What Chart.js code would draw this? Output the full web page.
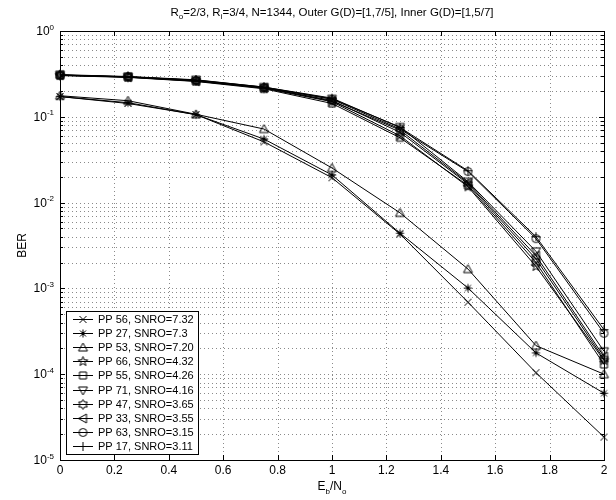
<!DOCTYPE html>
<html lang="en">
<head>
<meta charset="UTF-8">
<title>BER vs Eb/No</title>
<script src="https://cdn.jsdelivr.net/npm/chart.js"></script>
<style>
  html, body { margin: 0; padding: 0; background: #fff; }
  #wrap { width: 616px; height: 500px; }
</style>
</head>
<body>
<div id="wrap"><canvas id="chart" width="616" height="500"></canvas></div>
<script>
  // Eb/No points and axis ticks
  const ebno = [0, 0.25, 0.5, 0.75, 1, 1.25, 1.5, 1.75, 2];
  const xTicks = [0, 0.2, 0.4, 0.6, 0.8, 1, 1.2, 1.4, 1.6, 1.8, 2];
  const yDecades = [0, -1, -2, -3, -4, -5];

  // series
  const names = ['PP 56, SNRO=7.32', 'PP 27, SNRO=7.3', 'PP 53, SNRO=7.20', 'PP 66, SNRO=4.32',
    'PP 55, SNRO=4.26', 'PP 71, SNRO=4.16', 'PP 47, SNRO=3.65', 'PP 33, SNRO=3.55',
    'PP 63, SNRO=3.15', 'PP 17, SNRO=3.11'];
  const markers = ['x', '*', '^', 'p', 's', 'v', 'h', '<', 'o', '+'];
  const pp56 = [0.172, 0.143, 0.106, 0.051, 0.0195, 0.0043, 0.00069, 0.000104, 0.0000185];
  const pp27 = [0.172, 0.146, 0.106, 0.055, 0.021, 0.0044, 0.00101, 0.000177, 0.00006];
  const pp53 = [0.176, 0.154, 0.107, 0.072, 0.0253, 0.0076, 0.00168, 0.000215, 0.0001];
  const pp66 = [0.305, 0.29, 0.262, 0.215, 0.15, 0.06, 0.0153, 0.0018, 0.000145];
  const pp55 = [0.302, 0.288, 0.258, 0.212, 0.143, 0.057, 0.0158, 0.002, 0.00013];
  const pp71 = [0.31, 0.295, 0.27, 0.222, 0.162, 0.076, 0.0175, 0.0027, 0.000185];
  const pp47 = [0.305, 0.292, 0.265, 0.218, 0.155, 0.066, 0.0165, 0.0022, 0.00015];
  const pp33 = [0.307, 0.29, 0.26, 0.218, 0.152, 0.07, 0.017, 0.0024, 0.00016];
  const pp63 = [0.306, 0.293, 0.266, 0.22, 0.16, 0.072, 0.023, 0.0038, 0.0003];
  const pp17 = [0.308, 0.292, 0.268, 0.222, 0.165, 0.075, 0.0235, 0.004, 0.00033];
  const series = [pp56, pp27, pp53, pp66, pp55, pp71, pp47, pp33, pp63, pp17];

  const FONT = '"Liberation Sans", Arial, Helvetica, sans-serif';

  // matlab-like marker glyphs as small canvases
  function makeMarker(type) {
    const s = 13, c = 6.5;
    const cv = document.createElement('canvas');
    cv.width = s; cv.height = s;
    const g = cv.getContext('2d');
    g.strokeStyle = '#000';
    g.lineWidth = 1;
    g.beginPath();
    if (type === 'x') {
      g.moveTo(c - 3.5, c - 3.5); g.lineTo(c + 3.5, c + 3.5);
      g.moveTo(c + 3.5, c - 3.5); g.lineTo(c - 3.5, c + 3.5);
    } else if (type === '+') {
      g.moveTo(c - 4.5, c); g.lineTo(c + 4.5, c);
      g.moveTo(c, c - 4.5); g.lineTo(c, c + 4.5);
    } else if (type === '*') {
      g.moveTo(c - 4, c); g.lineTo(c + 4, c);
      g.moveTo(c, c - 4); g.lineTo(c, c + 4);
      g.moveTo(c - 3, c - 3); g.lineTo(c + 3, c + 3);
      g.moveTo(c + 3, c - 3); g.lineTo(c - 3, c + 3);
    } else if (type === '^') {
      g.moveTo(c, c - 4.5); g.lineTo(c + 4.5, c + 3.5); g.lineTo(c - 4.5, c + 3.5); g.closePath();
    } else if (type === 'v') {
      g.moveTo(c, c + 4.5); g.lineTo(c + 4.5, c - 3.5); g.lineTo(c - 4.5, c - 3.5); g.closePath();
    } else if (type === '<') {
      g.moveTo(c - 4.5, c); g.lineTo(c + 3.5, c - 4.5); g.lineTo(c + 3.5, c + 4.5); g.closePath();
    } else if (type === 's') {
      g.rect(c - 3.5, c - 3.5, 7, 7);
    } else if (type === 'o') {
      g.arc(c, c, 4, 0, Math.PI * 2);
    } else if (type === 'p' || type === 'h') {
      const n = type === 'p' ? 5 : 6;
      const ro = 5, ri = type === 'p' ? 2.1 : 2.9;
      for (let i = 0; i < n * 2; i++) {
        const r = i % 2 ? ri : ro;
        const a = -Math.PI / 2 + i * Math.PI / n;
        const px = c + r * Math.cos(a), py = c + r * Math.sin(a);
        if (i === 0) g.moveTo(px, py); else g.lineTo(px, py);
      }
      g.closePath();
    }
    g.stroke();
    return cv;
  }

  const markerImgs = markers.map(makeMarker);

  // text with sub/superscripts: parts = [[text, kind]], kind '', 'sub', 'sup'
  function richWidth(ctx, parts, size) {
    let w = 0;
    parts.forEach(p => {
      ctx.font = (p[1] ? Math.round(size * 0.7) : size) + 'px ' + FONT;
      w += ctx.measureText(p[0]).width;
    });
    return w;
  }
  function drawRich(ctx, parts, x, y, size, align) {
    const w = richWidth(ctx, parts, size);
    let cx = align === 'center' ? x - w / 2 : (align === 'right' ? x - w : x);
    ctx.textBaseline = 'alphabetic';
    ctx.textAlign = 'left';
    parts.forEach(p => {
      const small = !!p[1];
      ctx.font = (small ? Math.round(size * 0.7) : size) + 'px ' + FONT;
      let dy = 0;
      if (p[1] === 'sub') dy = size * 0.3;
      if (p[1] === 'sup') dy = -size * 0.45;
      ctx.fillText(p[0], cx, y + dy);
      cx += ctx.measureText(p[0]).width;
    });
  }

  const axesPlugin = {
    id: 'matlabAxes',
    beforeDatasetsDraw(chart) {
      const { ctx, chartArea: a, scales: { x, y } } = chart;
      ctx.save();
      ctx.strokeStyle = '#8a8a8a';
      ctx.lineWidth = 1;
      ctx.setLineDash([1, 3]);
      ctx.beginPath();
      xTicks.forEach(v => {
        const px = Math.round(x.getPixelForValue(v)) + 0.5;
        ctx.moveTo(px, a.top); ctx.lineTo(px, a.bottom);
      });
      yDecades.forEach(k => {
        for (let m = 1; m <= 9; m++) {
          if (k === 0 && m > 1) break;
          const py = Math.round(y.getPixelForValue(m * Math.pow(10, k))) + 0.5;
          ctx.moveTo(a.left, py); ctx.lineTo(a.right, py);
        }
      });
      ctx.stroke();
      ctx.restore();
    },
    afterDatasetsDraw(chart) {
      const { ctx, chartArea: a, scales: { x, y } } = chart;
      ctx.save();
      ctx.strokeStyle = '#000';
      ctx.lineWidth = 1;
      ctx.setLineDash([]);
      // ticks, pointing inward
      ctx.beginPath();
      xTicks.forEach(v => {
        const px = Math.round(x.getPixelForValue(v)) + 0.5;
        ctx.moveTo(px, a.bottom); ctx.lineTo(px, a.bottom - 5);
        ctx.moveTo(px, a.top); ctx.lineTo(px, a.top + 5);
      });
      yDecades.forEach(k => {
        for (let m = 1; m <= 9; m++) {
          if (k === 0 && m > 1) break;
          const py = Math.round(y.getPixelForValue(m * Math.pow(10, k))) + 0.5;
          const len = m === 1 ? 5 : 3;
          ctx.moveTo(a.left, py); ctx.lineTo(a.left + len, py);
          ctx.moveTo(a.right, py); ctx.lineTo(a.right - len, py);
        }
      });
      ctx.stroke();
      ctx.strokeRect(Math.round(a.left) + 0.5, Math.round(a.top) + 0.5,
        Math.round(a.right - a.left), Math.round(a.bottom - a.top));

      // tick labels
      ctx.fillStyle = '#000';
      ctx.font = '12px ' + FONT;
      ctx.textAlign = 'center';
      ctx.textBaseline = 'top';
      xTicks.forEach(v => {
        const lbl = String(Number(v.toFixed(1)));
        ctx.fillText(lbl, x.getPixelForValue(v), a.bottom + 5);
      });
      yDecades.forEach(k => {
        const py = y.getPixelForValue(Math.pow(10, k));
        drawRich(ctx, [['10', ''], [String(k), 'sup']], a.left - 6, py + 4, 12, 'right');
      });

      // titles
      drawRich(ctx, [['R', ''], ['o', 'sub'], ['=2/3, R', ''], ['i', 'sub'],
        ['=3/4, N=1344, Outer G(D)=[1,7/5], Inner G(D)=[1,5/7]', '']], 332, 16, 11.5, 'center');
      drawRich(ctx, [['E', ''], ['b', 'sub'], ['/N', ''], ['o', 'sub']],
        (a.left + a.right) / 2, 490, 12, 'center');
      ctx.save();
      ctx.translate(26, (a.top + a.bottom) / 2);
      ctx.rotate(-Math.PI / 2);
      ctx.font = '12px ' + FONT;
      ctx.textAlign = 'center';
      ctx.textBaseline = 'alphabetic';
      ctx.fillText('BER', 0, 0);
      ctx.restore();

      // legend box (lower left, inside axes)
      ctx.font = '11px ' + FONT;
      const lx = 66, ly = 311, rowH = 14.2;
      let tw = 0;
      chart.data.datasets.forEach(ds => { tw = Math.max(tw, ctx.measureText(ds.label).width); });
      const bw = 32 + tw + 4, bh = rowH * names.length + 0.5;
      ctx.fillStyle = '#fff';
      ctx.fillRect(lx, ly, bw, bh);
      ctx.strokeRect(lx + 0.5, ly + 0.5, Math.round(bw), Math.round(bh));
      chart.data.datasets.forEach((ds, i) => {
        const ry = Math.round(ly + 7.5 + i * rowH) + 0.5;
        ctx.beginPath();
        ctx.moveTo(lx + 7, ry); ctx.lineTo(lx + 27, ry);
        ctx.stroke();
        ctx.drawImage(ds.pointStyle, lx + 17 - 6.5, ry - 6.5);
        ctx.fillStyle = '#000';
        ctx.textAlign = 'left';
        ctx.textBaseline = 'middle';
        ctx.fillText(ds.label, lx + 32, ry + 0.5);
      });
      ctx.restore();
    }
  };

  const datasets = series.map((vals, i) => ({
    label: names[i],
    data: vals.map((v, j) => ({ x: ebno[j], y: v })),
    borderColor: '#000',
    borderWidth: 1,
    backgroundColor: '#000',
    pointStyle: markerImgs[i],
    pointRadius: 4,
    tension: 0,
    fill: false,
    clip: false
  }));

  new Chart(document.getElementById('chart'), {
    type: 'line',
    data: { datasets },
    options: {
      responsive: false,
      animation: false,
      devicePixelRatio: 1,
      events: [],
      layout: { padding: { top: 31, right: 12, left: 0, bottom: 0 } },
      plugins: { legend: { display: false }, tooltip: { enabled: false }, title: { display: false } },
      scales: {
        x: {
          type: 'linear', min: 0, max: 2,
          ticks: { display: false },
          grid: { display: false },
          border: { display: false },
          afterFit(scale) { scale.height = 40; }
        },
        y: {
          type: 'logarithmic', min: 1e-5, max: 1,
          ticks: { display: false },
          grid: { display: false },
          border: { display: false },
          afterFit(scale) { scale.width = 60; }
        }
      }
    },
    plugins: [axesPlugin]
  });
</script>
</body>
</html>
